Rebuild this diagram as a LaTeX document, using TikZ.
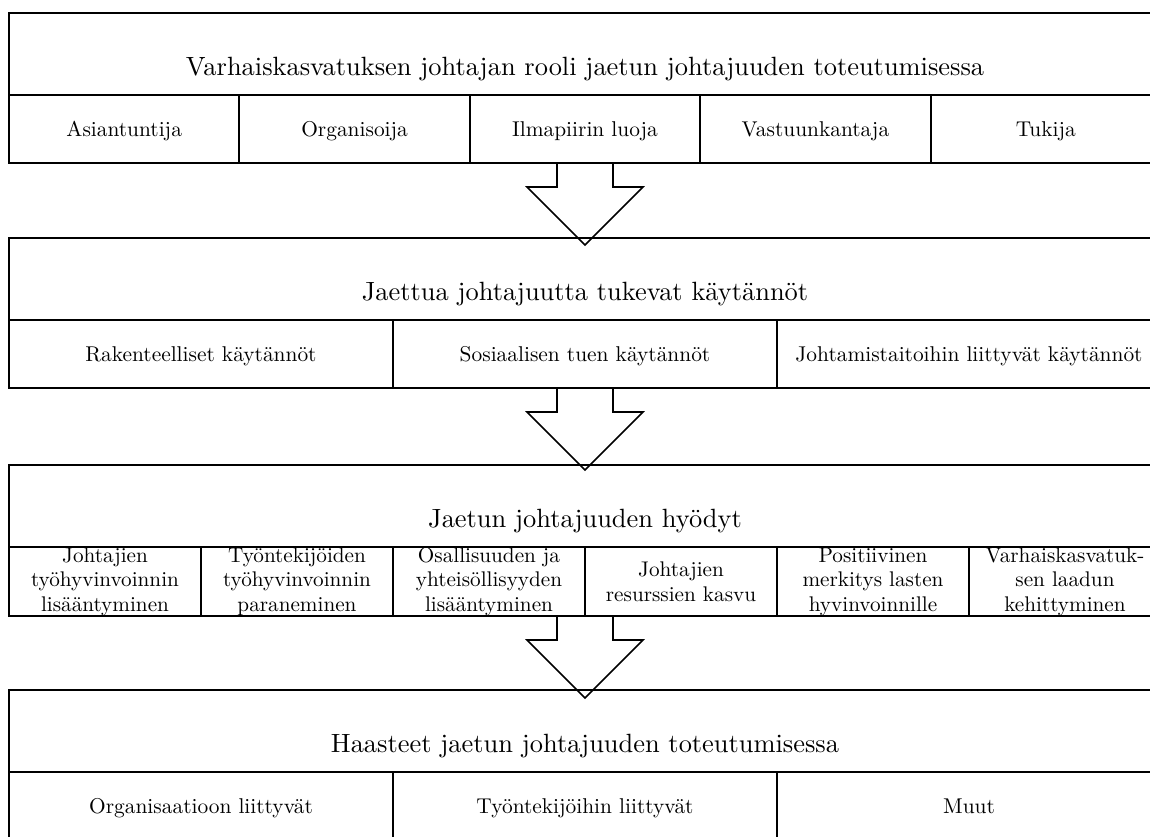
\documentclass[tikz,border=0pt]{standalone}
\usepackage{fontspec}
\setmainfont{lmroman10-regular.otf}
\usetikzlibrary{calc}

\tikzset{
  cell/.style={draw, line width=2pt, inner sep=0pt, anchor=north west, align=center},
  headbox/.style={cell, minimum width=1152pt, minimum height=82pt, text height=42pt, text depth=0pt,
    font=\fontsize{26.4}{32}\selectfont},
  partbox/.style={cell, minimum height=68pt, text height=14pt, text depth=0pt,
    font=\fontsize{21.4}{26}\selectfont},
  gainbox/.style={cell, minimum width=192pt, minimum height=69pt,
    execute at begin node={\rule{0pt}{24pt}},
    font=\fontsize{21.2}{24.5}\selectfont},
  blockarrow/.style={line width=1.6pt, line join=miter}
}

\begin{document}
\begin{tikzpicture}[x=1pt, y=-1pt]
  \useasboundingbox (0,0) rectangle (1150,836);
  % first block: roles
  \node[headbox] (rooli) at (8,12) {Varhaiskasvatuksen johtajan rooli jaetun johtajuuden toteutumisessa};
  \foreach \txt [count=\i] in {Asiantuntija, Organisoija, Ilmapiirin luoja, Vastuunkantaja, Tukija}
    \node[partbox, minimum width=230.4pt] (rooli-\i) at ({8+(\i-1)*230.4}, 94) {\txt};
  % second block: practices
  \node[headbox] (kaytannot) at (8,237) {Jaettua johtajuutta tukevat käytännöt};
  \foreach \txt [count=\i] in {Rakenteelliset käytännöt, Sosiaalisen tuen käytännöt,
      Johtamistaitoihin liittyvät käytännöt}
    \node[partbox, minimum width=384pt] (kaytannot-\i) at ({8+(\i-1)*384}, 319) {\txt};
  % third block: benefits
  \node[headbox] (hyodyt) at (8,464) {Jaetun johtajuuden hyödyt};
  \foreach \txt [count=\i] in {{Johtajien\\työhyvinvoinnin\\lisääntyminen},
      {Työntekijöiden\\työhyvinvoinnin\\paraneminen},
      {Osallisuuden ja\\yhteisöllisyyden\\lisääntyminen},
      {Johtajien\\resurssien kasvu},
      {Positiivinen\\merkitys lasten\\hyvinvoinnille},
      {Varhaiskasvatuk-\\sen laadun\\kehittyminen}}
    \node[gainbox] (hyodyt-\i) at ({8+(\i-1)*192}, 546) {\txt};
  % fourth block: challenges
  \node[headbox] (haasteet) at (8,689) {Haasteet jaetun johtajuuden toteutumisessa};
  \foreach \txt [count=\i] in {Organisaatioon liittyvät, Työntekijöihin liittyvät, Muut}
    \node[partbox, minimum width=384pt] (haasteet-\i) at ({8+(\i-1)*384}, 771) {\txt};
  % arrows between blocks
  \coordinate (a1) at (rooli.south |- rooli-1.south);
  \coordinate (a2) at (kaytannot.south |- kaytannot-1.south);
  \coordinate (a3) at (hyodyt.south |- hyodyt-1.south);
  \foreach \a in {a1,a2,a3}
    \draw[blockarrow] ($(\a)+(-28,0)$) -- ++(0,23) -- ++(-30,0) -- ++(58,58)
      -- ++(58,-58) -- ++(-30,0) -- ++(0,-23);
\end{tikzpicture}
\end{document}
